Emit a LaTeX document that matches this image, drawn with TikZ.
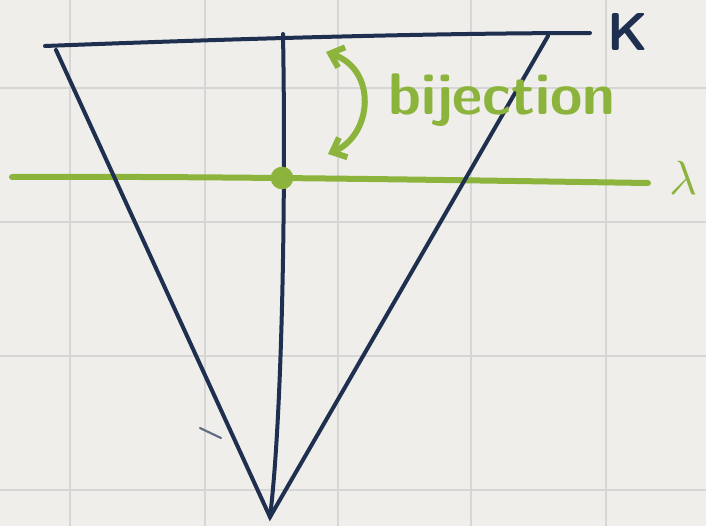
\documentclass[tikz,border=0pt]{standalone}
\usepackage{graphicx}
\usetikzlibrary{arrows.meta}
\definecolor{paper}{HTML}{EFEEEA}
\definecolor{gridc}{HTML}{D6D6D4}
\definecolor{ink}{HTML}{1E2F4F}
\definecolor{lime}{HTML}{8CB43C}
\tikzset{
  gridline/.style={draw=gridc, line width=0.9pt},
  inkline/.style={draw=ink, line width=3pt, line cap=round},
  limeline/.style={draw=lime, line width=4.5pt, line cap=round},
  hand/.style={font=\sffamily\bfseries\fontsize{40}{40}\selectfont},
}
\begin{document}
\begin{tikzpicture}[x=0.75pt, y=-0.75pt]
\fill[paper] (0,0) rectangle (706,526);
\useasboundingbox (0,0) rectangle (706,526);
% grid
\foreach \gx in {70,205,338,471,606} \draw[gridline] (\gx,0) -- (\gx,526);
\foreach \gy in {88,222,356,490} \draw[gridline] (0,\gy) -- (706,\gy);
% coordinates
\coordinate (topL) at (45,46);
\coordinate (topR) at (590,33);
\coordinate (tl) at (56,50);
\coordinate (tr) at (548,36);
\coordinate (bot) at (270,517);
\coordinate (vtop) at (283,34);
\coordinate (gL) at (12,177);
\coordinate (gR) at (648,183);
\coordinate (tickA) at (200,428);
\coordinate (tickB) at (221,438);
% green line lambda
\draw[limeline] (gL) .. controls (200,176) and (450,180) .. (gR);
% triangle
\draw[inkline] (topL) .. controls (200,40) and (420,33) .. (topR);
\draw[inkline] (tl) -- (bot) -- (tr);
\draw[inkline] (vtop) .. controls (286,200) and (282,420) .. (bot);
\draw[draw=ink!70, line width=1.6pt, line cap=round] (tickA) -- (tickB);
% dot
\node[circle, fill=lime, minimum size=17pt, inner sep=0pt] (dot) at (282,178) {};
% bijection arrow
\coordinate (bA) at (326,52);
\coordinate (bB) at (328,154);
\draw[draw=lime, line width=4.5pt, {Straight Barb[length=9pt,width=16pt]}-{Straight Barb[length=9pt,width=16pt]}] (bA) .. controls (378,70) and (372,135) .. (bB);
% labels
\node[hand, text=lime, anchor=west, inner sep=0pt, font=\sffamily\bfseries\fontsize{44}{44}\selectfont] (bij) at (388,100) {bijection};
\node[hand, text=ink, inner sep=0pt] (K) at (628,32) {K};
\node[text=lime, inner sep=0pt] (lam) at (683,178) {\scalebox{3.6}{$\mathbf{\lambda}$}};
\end{tikzpicture}
\end{document}
